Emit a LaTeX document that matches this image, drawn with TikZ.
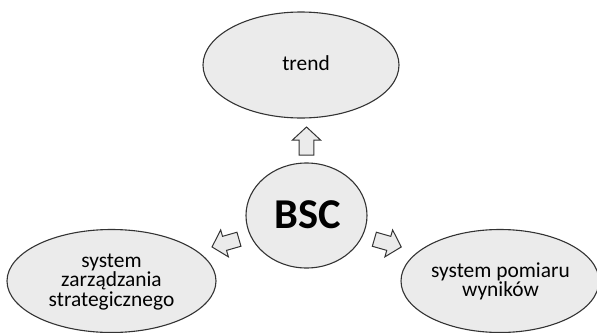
\documentclass[tikz,border=0pt]{standalone}
\usepackage{fontspec}
\setmainfont{Carlito}
\usepackage{tikz}
\usetikzlibrary{shapes.geometric}

\tikzset{
    bubble/.style={ellipse, draw=black!80, fill=black!8, line width=1.1pt, inner sep=0pt},
    bubbletext/.style={align=center, anchor=base, inner sep=0pt, font=\fontsize{21.4}{19.5}\selectfont},
    blockarrow/.style={draw=black!80, fill=black!8, line width=1pt, line join=miter}
}
\newcommand\outarrow[2]{\draw[blockarrow, shift={(#1)}, rotate=#2]
    (-14,-7.3) -- (1,-7.3) -- (1,-14) -- (14,0) -- (1,14) -- (1,7.3) -- (-14,7.3) -- cycle;}

\begin{document}
\begin{tikzpicture}[x=1pt, y=-1pt]
                \useasboundingbox (0,0) rectangle (597,332);

                \node[bubble, minimum width=196pt, minimum height=106pt] (trend) at (301,65) {};
                \node[bubble, minimum width=121pt, minimum height=105pt] (bsc) at (306.5,215.5) {};
                \node[bubble, minimum width=209pt, minimum height=103pt] (zarz) at (111.5,281) {};
                \node[bubble, minimum width=198pt, minimum height=103pt] (pomiar) at (500,281) {};

                \node[bubbletext] (trendtext) at (306,70) {trend};
                \node[bubbletext, font=\fontsize{42.5}{42}\selectfont\bfseries] (bsctext) at (307.5,228) {BSC};
                \node[bubbletext] (zarztext) at (111.5,306) {system\\zarządzania\\strategicznego};
                \node[bubbletext] (pomiartext) at (500.5,296.7) {system pomiaru\\wyników};

                \coordinate (up) at (306.5,141);
                \coordinate (left) at (225.5,243.1);
                \coordinate (right) at (387.8,243.1);

                \outarrow{up}{90}
                \outarrow{left}{196}
                \outarrow{right}{-16}
            \end{tikzpicture}
\end{document}
